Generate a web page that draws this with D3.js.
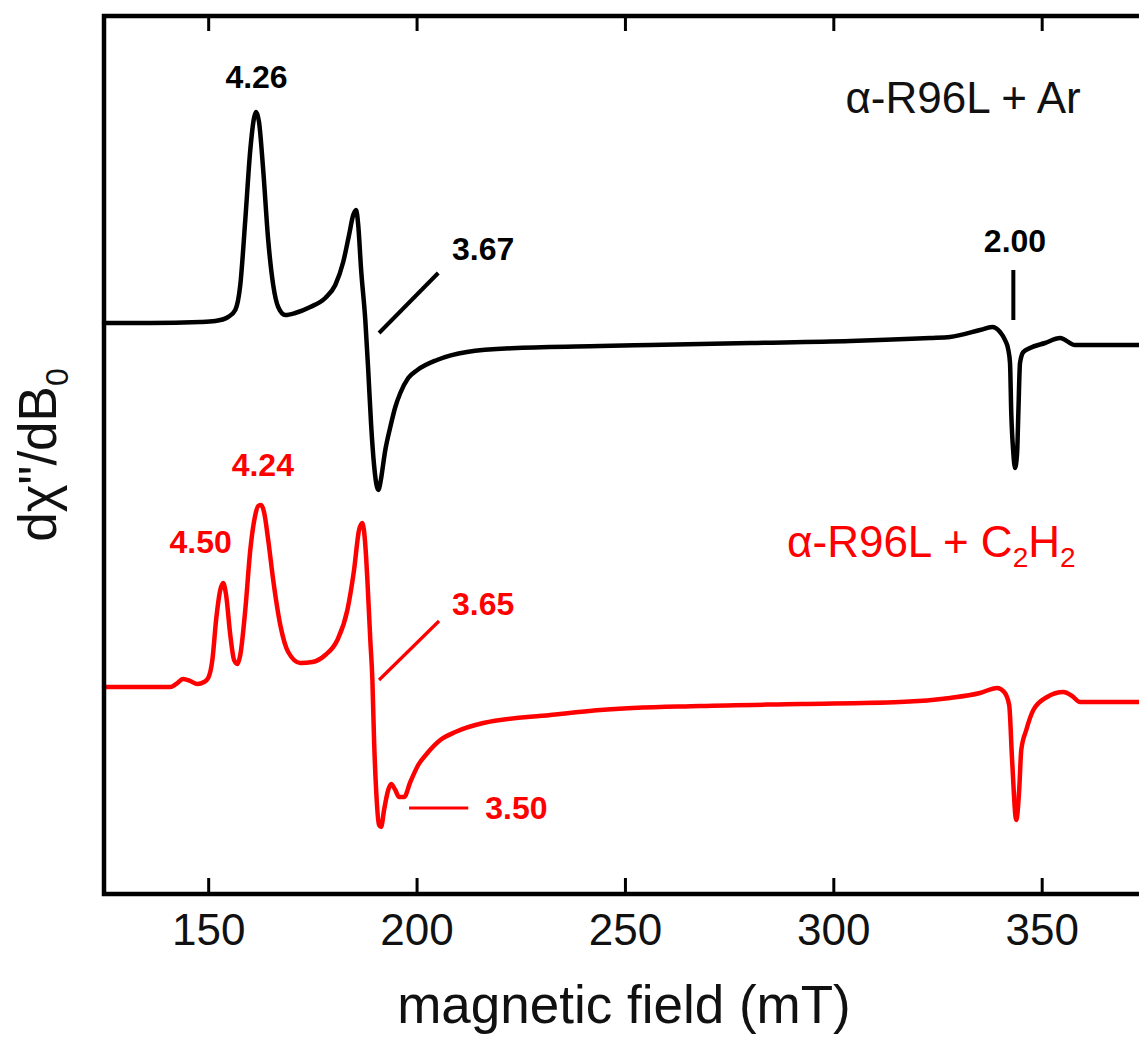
<!DOCTYPE html>
<html><head><meta charset="utf-8">
<script src="https://cdn.jsdelivr.net/npm/d3@7"></script>
<style>body{margin:0;background:#fff}svg{display:block}</style>
</head><body>
<svg id="c" width="1139" height="1038"></svg>
<script>
// ---- data ----
const fieldTicks = [150, 200, 250, 300, 350];
const fieldDomain = [125, 375];

// alpha-R96L + Ar (black trace), field in mT, derivative signal in arbitrary units
const arField = [125,136.1,148.1,151.7,154.8,156.5,157.7,158.9,160.1,161.0,161.5,162.2,163.2,164.4,165.6,166.8,168.5,170.9,174.5,178.1,180.5,182.4,183.8,184.8,185.5,186.0,186.7,187.7,188.4,189.1,189.8,190.5,190.9,191.3,192.5,193.7,194.9,196.1,198.0,200.2,204.9,212.1,224.1,244.1,256.1,280.1,304.1,323.2,328.0,335.2,338.1,340.0,341.2,342.0,342.4,342.7,343.2,343.6,344.1,344.4,344.8,345.6,347.2,350.8,354.4,358.0,361.6,375];
const arSignal = [0,0,1,2,6,13,38,103,173,205,211,201,153,83,38,16,8,10,16,25,38,61,88,108,113,98,53,3,-47,-102,-142,-164,-167,-160,-127,-104,-84,-70,-55,-47,-37,-29,-25,-23,-22,-20,-18,-15,-14,-7,-4,-9,-17,-27,-40,-90,-130,-145,-130,-90,-40,-29,-25,-20,-15,-22,-22,-22];
const arOffset = 571;

// alpha-R96L + C2H2 (red trace)
const acField = [125,140.9,142.3,144.0,145.7,147.4,149.0,150.0,151.0,151.9,152.9,153.6,154.3,155.3,156.2,157.0,157.7,158.9,160.1,161.3,162.0,162.7,163.4,164.4,165.6,167.3,169.2,172.1,175.0,178.1,181.0,183.4,185.0,186.2,187.0,187.7,188.2,188.9,189.4,189.8,190.3,191.0,191.5,192.2,193.2,193.9,194.9,195.8,197.0,198.5,200.4,202.6,205.7,209.3,216.0,232.1,244.1,268.1,292.1,316.0,328.0,335.2,339.3,341.0,342.2,342.9,343.9,344.6,345.1,346.3,348.0,351.3,355.2,357.3,359.2,375];
const acSignal = [0,0,3,8,6,3,5,9,27,67,97,104,92,52,27,23,32,77,137,172,181,182,175,147,107,62,35,24,25,32,47,77,117,157,164,142,107,47,7,-53,-103,-138,-140,-123,-103,-97,-103,-110,-110,-95,-78,-66,-53,-45,-36,-28,-23,-19,-17,-15,-11,-6,-1,-5,-18,-73,-133,-103,-63,-43,-23,-10,-5,-9,-15,-15];
const acOffset = 207;

// g-value annotations
const gText   = ["4.26", "3.67", "2.00", "4.24", "4.50", "3.65", "3.50"];
const gField  = [161.6, 208.5, 343.6, 163.1, 148.2, 208.5, 216.5];
const gLevel  = [806, 634, 642, 418, 341, 279, 75];
const gAnchor = ["middle", "start", "middle", "middle", "middle", "start", "start"];
const gSeries = [0, 0, 0, 1, 1, 1, 1];

// leader lines [field1, level1, field2, level2]
const leaderCoords = [[191.0, 561, 205.2, 621], [343.2, 624, 343.2, 574], [191.0, 214, 205.4, 273], [198.2, 86, 212.4, 86]];
const leaderSeries = [0, 0, 1, 1];

const seriesColors = ["#000000", "#ff0000"];
const seriesLabelField = [302.9, 288.9];
const seriesLabelLevel = [781, 337];

// ---- drawing ----
const svg = d3.select("#c");
const font = "'Liberation Sans', Arial, Helvetica, sans-serif";
const x = d3.scaleLinear().domain(fieldDomain).range([104, 104 + (fieldDomain[1] - fieldDomain[0]) * 4.1675]);
const y = d3.scaleLinear().domain([0, 878]).range([894, 16]);

// traces
function drawTrace(fields, signals, offset, color) {
  const pts = fields.map((f, i) => [f, signals[i] + offset]);
  svg.append("path")
    .datum(pts)
    .attr("fill", "none")
    .attr("stroke", color)
    .attr("stroke-width", 4.5)
    .attr("stroke-linejoin", "round")
    .attr("stroke-linecap", "round")
    .attr("d", d3.line().x(d => x(d[0])).y(d => y(d[1])).curve(d3.curveMonotoneX));
}
drawTrace(arField, arSignal, arOffset, seriesColors[0]);
drawTrace(acField, acSignal, acOffset, seriesColors[1]);

// bottom axis
const gx = svg.append("g").attr("transform", `translate(0,${y(0)})`)
  .call(d3.axisBottom(x).tickValues(fieldTicks).tickSize(-16).tickPadding(20).tickFormat(d3.format("d")));
gx.select(".domain").remove();
gx.selectAll(".tick line").attr("stroke", "#000").attr("stroke-width", 3);
gx.selectAll(".tick text").attr("font-family", font).attr("font-size", 44).attr("fill", "#111");

// top axis ticks
const gt = svg.append("g").attr("transform", `translate(0,${y(878)})`)
  .call(d3.axisTop(x).tickValues(fieldTicks).tickSize(-15).tickFormat(""));
gt.select(".domain").remove();
gt.selectAll(".tick line").attr("stroke", "#000").attr("stroke-width", 3);

// frame
svg.append("path")
  .attr("d", d3.line()([[x(fieldDomain[1]), y(878)], [x(fieldDomain[0]), y(878)], [x(fieldDomain[0]), y(0)], [x(fieldDomain[1]), y(0)]]))
  .attr("fill", "none").attr("stroke", "#000").attr("stroke-width", 4.5);

// axis titles
svg.append("text")
  .attr("x", 624).attr("y", 1023)
  .attr("text-anchor", "middle")
  .attr("font-family", font).attr("font-size", 53).attr("fill", "#111")
  .text("magnetic field (mT)");

const yl = svg.append("text")
  .attr("transform", "translate(56,455) rotate(-90)")
  .attr("text-anchor", "middle")
  .attr("font-family", font).attr("font-size", 53).attr("fill", "#111");
yl.append("tspan").text("dχ\"/dB");
yl.append("tspan").attr("font-size", 32).attr("dy", 12).text("0");

// leader lines
leaderCoords.forEach((c, i) => {
  svg.append("line")
    .attr("x1", x(c[0])).attr("y1", y(c[1]))
    .attr("x2", x(c[2])).attr("y2", y(c[3]))
    .attr("stroke", seriesColors[leaderSeries[i]])
    .attr("stroke-width", leaderSeries[i] === 0 ? 4 : 3.2);
});

// g-value labels
gText.forEach((t, i) => {
  svg.append("text")
    .attr("x", x(gField[i])).attr("y", y(gLevel[i]))
    .attr("text-anchor", gAnchor[i])
    .attr("font-family", font).attr("font-weight", "bold").attr("font-size", 32)
    .attr("fill", seriesColors[gSeries[i]])
    .text(t);
});

// series labels
svg.append("text")
  .attr("x", x(seriesLabelField[0])).attr("y", y(seriesLabelLevel[0]))
  .attr("font-family", font).attr("font-size", 44).attr("fill", "#111")
  .text("α-R96L + Ar");

const rl = svg.append("text")
  .attr("x", x(seriesLabelField[1])).attr("y", y(seriesLabelLevel[1]))
  .attr("font-family", font).attr("font-size", 44).attr("fill", seriesColors[1]);
rl.append("tspan").text("α-R96L + C");
rl.append("tspan").attr("font-size", 28).attr("dy", 10).text("2");
rl.append("tspan").attr("dy", -10).text("H");
rl.append("tspan").attr("font-size", 28).attr("dy", 10).text("2");
</script>
</body></html>
